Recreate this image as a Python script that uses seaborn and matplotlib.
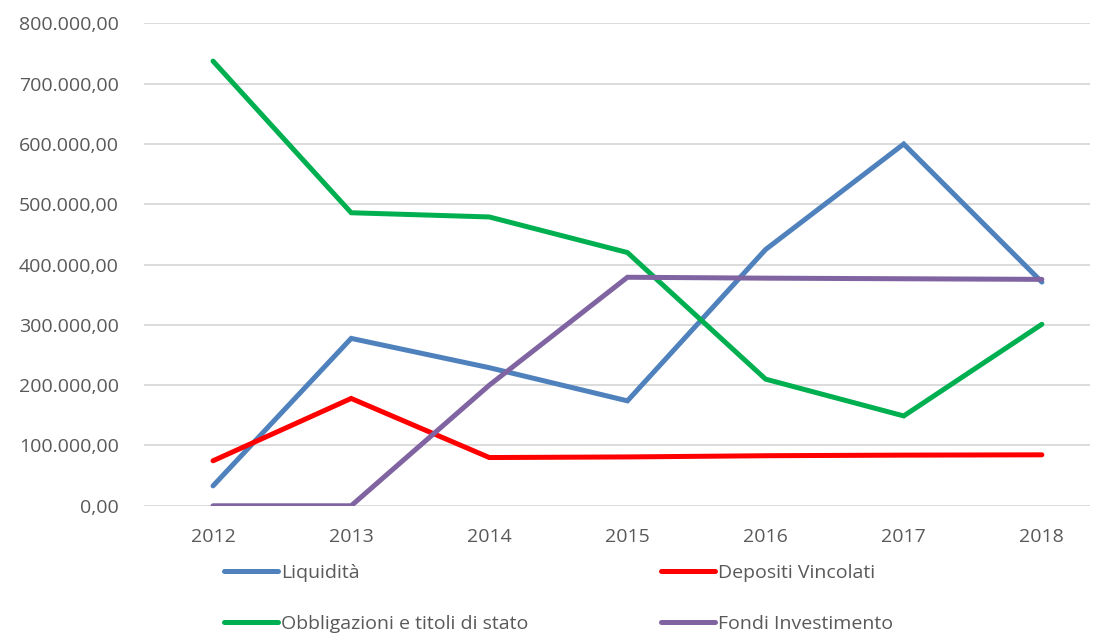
import pandas as pd
import seaborn as sns
import matplotlib.pyplot as plt
from matplotlib.ticker import FuncFormatter, MultipleLocator
from matplotlib.lines import Line2D

years = ["2012", "2013", "2014", "2015", "2016", "2017", "2018"]
liquidita = [33000, 277600, 229000, 174000, 425000, 600000, 371000]
depositi = [74600, 178000, 80000, 81000, 83000, 84000, 84500]
obbligazioni = [737500, 486000, 479000, 420000, 210000, 149000, 301000]
fondi = [0, 0, 200000, 379000, 377500, 376500, 375500]

series = ["Liquidità", "Depositi Vincolati", "Obbligazioni e titoli di stato", "Fondi Investimento"]
colors = ["#4f81bd", "#ff0000", "#00b050", "#8064a2"]

df = pd.DataFrame({"Anno": years, series[0]: liquidita, series[1]: depositi,
                   series[2]: obbligazioni, series[3]: fondi})
long = df.melt(id_vars="Anno", var_name="Serie", value_name="Valore")

sns.set_style("white")
plt.rcParams["font.family"] = ["Open Sans", "DejaVu Sans"]
text_col = "#595959"
fs = 14

fig = plt.figure(figsize=(10.99, 6.33), dpi=100)
ax = fig.add_axes([0.131, 0.201, 0.861, 0.762])

sns.lineplot(data=long, x="Anno", y="Valore", hue="Serie", palette=colors,
             linewidth=3.6, ax=ax, legend=False, sort=False)
for ln in ax.lines:
    ln.set_solid_capstyle("round")
    ln.set_solid_joinstyle("miter")

ax.set_ylim(0, 800000)
ax.set_xlim(-0.5, 6.35)
ax.yaxis.set_major_locator(MultipleLocator(100000))
ax.yaxis.set_major_formatter(FuncFormatter(
    lambda v, p: f"{v:,.2f}".replace(",", "X").replace(".", ",").replace("X", ".")))
ax.grid(axis="y", color="#d9d9d9", linewidth=1.3)
ax.set_axisbelow(True)
for s in ax.spines.values():
    s.set_visible(False)
ax.tick_params(axis="both", length=0, labelsize=fs, labelcolor=text_col)
ax.tick_params(axis="y", pad=18)
ax.tick_params(axis="x", pad=16)
ax.set_xlabel("")
ax.set_ylabel("")

handles = [Line2D([], [], color=c, linewidth=3.6, solid_capstyle="round") for c in colors]
leg_kw = dict(frameon=False, fontsize=fs, handlelength=2.8, handletextpad=0.15,
              labelspacing=1.7, borderpad=0, borderaxespad=0, labelcolor=text_col)
leg1 = fig.legend([handles[0], handles[2]], [series[0], series[2]], loc="upper left",
                  bbox_to_anchor=(224 / 1099, 1 - 564 / 633), **leg_kw)
leg2 = fig.legend([handles[1], handles[3]], [series[1], series[3]], loc="upper left",
                  bbox_to_anchor=(661 / 1099, 1 - 564 / 633), **leg_kw)

fig.savefig("out.png", dpi=100)
